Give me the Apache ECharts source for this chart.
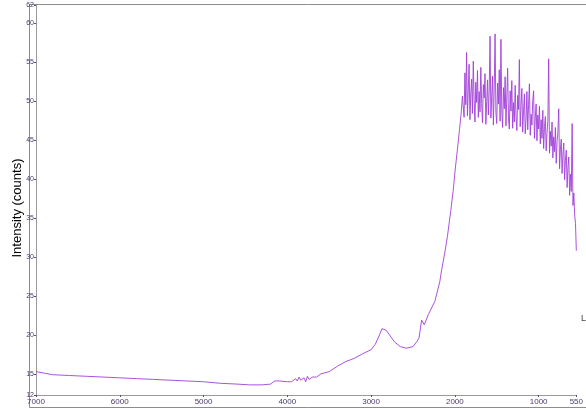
<!DOCTYPE html>
<html>
<head>
<meta charset="utf-8">
<script src="https://cdn.jsdelivr.net/npm/echarts@6/dist/echarts.min.js"></script>
<style>html,body{margin:0;padding:0;background:#fff;}#c{width:586px;height:409px;}</style>
</head>
<body>
<div id="c"></div>
<script>
const wavenumbers = [
7000,6900,6800,6600,6400,6200,6000,5800,5600,5400,5200,5000,4800,4600,4450,4300,4200,4150,4100,4000,3950,3900,3880,3860,3840,3800,3780,3760,3740,3700,3650,3600,3500,3400,3300,3200,3100,3000,2950,2900,2870,2850,2820,2780,2720,2650,2580,2500,2450,2428,2397,2365,2317,2239,2180,2160,2121,2089,2050,2021,1994,1962,1943,1923,1910,
1900,1890,1880,1870,1860,1850,1840,1830,1820,1810,1800,1790,1780,1770,1760,1750,1740,1730,1720,1710,1700,1690,1680,1670,1660,1650,1640,1630,1620,1610,1600,1590,1580,1570,1560,1550,1540,1530,1520,1510,1500,1490,1480,1470,1460,1450,1440,1430,1420,1410,1400,1390,1380,1370,1360,1350,1340,1330,1320,1310,1300,1290,1280,1270,1260,1250,1240,1230,1220,1210,1200,1190,1180,1170,1160,1150,1140,1130,1120,1110,1100,1090,1080,1070,1060,1050,1040,1030,1020,1010,1000,990,980,970,960,950,940,930,920,910,900,890,880,870,860,850,840,830,820,810,800,790,780,770,760,750,740,730,720,710,700,690,680,670,660,650,640,630,620,610,600,590,580,570,560,550
];
const intensity = [
15.3,15.1,14.9,14.8,14.7,14.6,14.5,14.4,14.3,14.2,14.1,14.0,13.8,13.7,13.6,13.6,13.7,14.1,14.1,14.0,14.0,14.4,14.1,14.6,14.2,14.5,14.0,14.7,14.3,14.6,14.6,15.0,15.3,16.0,16.6,17.0,17.6,18.1,18.8,20.0,20.8,20.9,20.6,20.0,19.1,18.5,18.3,18.5,19.2,19.6,21.9,21.3,22.6,24.3,26.8,28.2,30.5,32.6,35.8,38.4,41.4,44.5,46.5,48.6,50.6,
50.8,47.9,53.6,49.5,56.2,48.1,51.3,54.7,47.6,50.9,52.8,48.4,55.1,50.2,47.3,52.4,49.8,53.9,47.9,51.2,48.6,54.3,49.7,47.2,52.1,50.4,53.5,47.0,49.9,52.7,48.2,51.4,58.3,47.8,50.6,53.2,46.9,51.8,58.6,48.5,47.1,52.3,49.6,54.0,47.4,57.9,48.8,46.6,51.7,49.0,53.1,46.8,50.5,54.2,47.9,46.4,51.3,48.7,52.6,46.5,49.8,47.3,52.0,48.1,46.2,50.7,48.9,55.3,46.7,49.4,51.6,46.0,48.8,50.9,45.8,47.7,51.2,46.3,49.5,52.2,45.6,48.3,46.9,50.1,51.3,45.2,47.8,49.6,44.9,48.2,46.4,49.3,44.5,47.6,45.2,48.8,43.9,46.7,48.0,43.6,45.9,47.4,55.4,43.3,46.1,44.2,47.3,42.7,45.4,43.5,46.6,42.0,44.8,46.0,49.0,41.3,43.8,45.1,40.7,43.2,44.6,39.9,42.4,43.7,38.9,41.5,42.8,37.9,40.6,38.4,47.1,36.6,38.2,35.4,34.3,30.8
];
const xTicks = [7000,6000,5000,4000,3000,2000,1000,550];
const yTicks = [12.3,15,20,25,30,35,40,45,50,55,60,62.3];

const seriesData = wavenumbers.map((w,i)=>[w,intensity[i]]);
const chart = echarts.init(document.getElementById('c'), null, {renderer:'canvas'});
chart.setOption({
  animation:false,
  backgroundColor:'#fff',
  grid:{left:36,right:5,top:5,bottom:14,containLabel:false},
  xAxis:{
    type:'value', inverse:true, min:550, max:7000,
    axisLine:{show:true,lineStyle:{color:'#9a9a9a',width:1}},
    axisTick:{show:true,length:2,customValues:xTicks,lineStyle:{color:'#5a4a7a'}},
    axisLabel:{customValues:xTicks,fontSize:8,color:'#4a3a6a',margin:3,fontFamily:'Liberation Sans Narrow, Liberation Sans, sans-serif',
      formatter:v=>String(v)},
    splitLine:{show:false}
  },
  yAxis:{
    type:'value', min:12.3, max:62.3,
    axisLine:{show:true,lineStyle:{color:'#9a9a9a',width:1}},
    axisTick:{show:true,length:2,customValues:yTicks,lineStyle:{color:'#5a4a7a'}},
    axisLabel:{customValues:yTicks,fontSize:7,color:'#4a3a6a',margin:2,fontFamily:'Liberation Sans Narrow, Liberation Sans, sans-serif',
      formatter:v=>String(Math.round(v))},
    splitLine:{show:false}
  },
  graphic:[
    {type:'rect',shape:{x:29.5,y:4.5,width:600,height:403},style:{fill:'none',stroke:'#8c8c8c',lineWidth:1},silent:true,z:-1},
    {type:'text',x:17,y:208,rotation:Math.PI/2,style:{text:'Intensity (counts)',font:'13px "Liberation Sans", sans-serif',fill:'#000',textAlign:'center',textVerticalAlign:'middle'}},
    {type:'text',x:581,y:314,style:{text:'L',font:'9px "Liberation Sans", sans-serif',fill:'#444'}}
  ],
  series:[{
    type:'line', data:seriesData, showSymbol:false, smooth:false,
    lineStyle:{color:'#a040d8',width:0.9}, itemStyle:{color:'#a040d8'}
  }]
});
</script>
</body>
</html>
